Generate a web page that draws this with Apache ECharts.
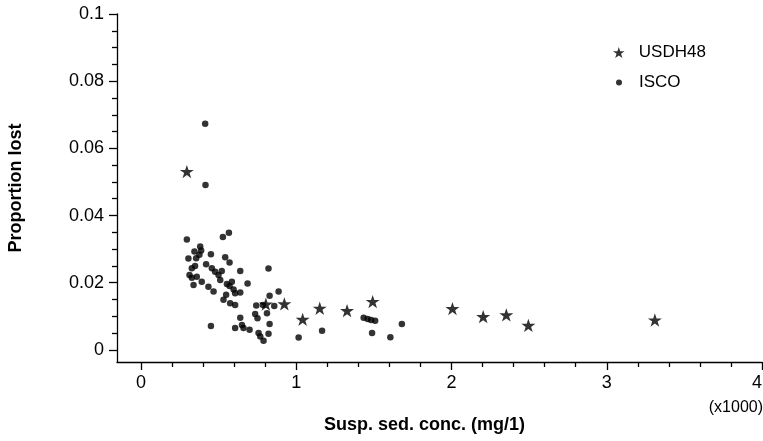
<!DOCTYPE html>
<html>
<head>
<meta charset="utf-8">
<script src="https://cdn.jsdelivr.net/npm/echarts@6/dist/echarts.min.js"></script>
<style>
  html, body { margin: 0; padding: 0; background: #fff; }
  #chart { width: 763px; height: 441px; }
</style>
</head>
<body>
<div id="chart"></div>
<script>
// Suspended sediment concentration (x1000 mg/l) vs. proportion of sample lost
const usdhX = [0.295, 0.804, 0.923, 1.041, 1.151, 1.327, 1.492, 2.006, 2.204, 2.353, 2.495, 3.31];
const usdhY = [0.0531, 0.0136, 0.0137, 0.0091, 0.0124, 0.0117, 0.0144, 0.0123, 0.0099, 0.0104, 0.0073, 0.0089];

const iscoX = [0.413, 0.415, 0.295, 0.527, 0.566, 0.381, 0.344, 0.387, 0.376, 0.305,
               0.450, 0.542, 0.570, 0.348, 0.327, 0.419, 0.456, 0.477, 0.499, 0.520,
               0.639, 0.821, 0.312, 0.327, 0.359, 0.391, 0.338, 0.510, 0.553, 0.585,
               0.686, 0.434, 0.467, 0.570, 0.596, 0.639, 0.606, 0.548, 0.531, 0.574,
               0.606, 0.886, 0.828, 0.742, 0.785, 0.858, 0.811, 0.735, 0.750, 0.639,
               0.450, 0.606, 0.650, 0.660, 0.699, 0.757, 0.828, 0.821, 0.768, 0.789,
               1.015, 1.166, 1.434, 1.460, 1.482, 1.508, 1.488, 1.606, 1.680, 0.355];
const iscoY = [0.0673, 0.0491, 0.0329, 0.0336, 0.0349, 0.0308, 0.0293, 0.0296, 0.0283, 0.0272,
               0.0285, 0.0276, 0.0260, 0.0250, 0.0243, 0.0255, 0.0243, 0.0233, 0.0223, 0.0235,
               0.0235, 0.0242, 0.0223, 0.0215, 0.0218, 0.0203, 0.0193, 0.0208, 0.0196, 0.0203,
               0.0198, 0.0188, 0.0174, 0.0190, 0.0180, 0.0171, 0.0169, 0.0164, 0.0149, 0.0139,
               0.0134, 0.0174, 0.0161, 0.0132, 0.0134, 0.0131, 0.0109, 0.0107, 0.0094, 0.0096,
               0.0071, 0.0065, 0.0074, 0.0065, 0.0060, 0.0050, 0.0077, 0.0048, 0.0040, 0.0027,
               0.0037, 0.0057, 0.0096, 0.0092, 0.0089, 0.0087, 0.0050, 0.0038, 0.0077, 0.0273];

const xTicks = [0, 1, 2, 3, 4];
const yTicks = [0, 0.02, 0.04, 0.06, 0.08, 0.1];

// minor tick positions between the labelled ticks
function minorTicks(majors, step) {
  const out = [];
  const lo = majors[0], hi = majors[majors.length - 1];
  for (let v = lo; v <= hi + step / 2; v += step) {
    const r = Math.round(v * 10000) / 10000;
    if (!majors.some(m => Math.abs(m - r) < 1e-9)) out.push(r);
  }
  return out;
}
const xMinor = minorTicks(xTicks, 0.2);
const yMinor = minorTicks(yTicks, 0.005);

const STAR = 'path://M50,0 L61.8,35.3 L99,35.3 L69,57.5 L80.4,93 L50,71.2 L19.6,93 L31,57.5 L1,35.3 L38.2,35.3 Z';
const FONT = '"Liberation Sans", Arial, Helvetica, sans-serif';
const INK = '#000';

const X_MIN = -0.155, X_MAX = 4;
const Y_MIN = -0.0036, Y_MAX = 0.1;

const chart = echarts.init(document.getElementById('chart'), null, { renderer: 'canvas' });

const lineStyle = { color: INK, width: 1.3 };

chart.setOption({
  backgroundColor: '#fff',
  animation: false,
  textStyle: { fontFamily: FONT, color: INK },
  grid: { left: 117, right: 1, top: 14, bottom: 79, outerBoundsMode: 'none', containLabel: false },
  xAxis: [
    {
      type: 'value', min: X_MIN, max: X_MAX, position: 'bottom',
      name: 'Susp. sed. conc. (mg/1)', nameLocation: 'middle', nameGap: 54,
      nameTextStyle: { fontFamily: FONT, fontWeight: 'bold', fontSize: 18, color: INK, padding: [0, 30, 0, 0] },
      axisLine: { show: true, onZero: false, lineStyle },
      axisTick: { show: true, inside: false, length: 8, customValues: xTicks, lineStyle },
      axisLabel: { show: true, customValues: xTicks, margin: 12, fontSize: 18, color: INK, fontFamily: FONT, alignMaxLabel: 'right' },
      splitLine: { show: false }
    },
    {
      type: 'value', min: X_MIN, max: X_MAX, position: 'bottom',
      axisLine: { show: false, onZero: false },
      axisTick: { show: true, inside: false, length: 5, customValues: xMinor, lineStyle },
      axisLabel: { show: false },
      splitLine: { show: false }
    }
  ],
  yAxis: [
    {
      type: 'value', min: Y_MIN, max: Y_MAX, position: 'left',
      name: 'Proportion lost', nameLocation: 'middle', nameGap: 92,
      nameTextStyle: { fontFamily: FONT, fontWeight: 'bold', fontSize: 18, color: INK },
      axisLine: { show: true, onZero: false, lineStyle },
      axisTick: { show: true, inside: false, length: 8, customValues: yTicks, lineStyle },
      axisLabel: { show: true, customValues: yTicks, margin: 13, fontSize: 18, color: INK, fontFamily: FONT },
      splitLine: { show: false }
    },
    {
      type: 'value', min: Y_MIN, max: Y_MAX, position: 'left',
      axisLine: { show: false, onZero: false },
      axisTick: { show: true, inside: false, length: 5, customValues: yMinor, lineStyle },
      axisLabel: { show: false },
      splitLine: { show: false }
    }
  ],
  legend: [
    {
      data: [{ name: 'USDH48', icon: STAR }],
      orient: 'vertical', left: 608, top: 39,
      itemWidth: 30, itemHeight: 11, symbolKeepAspect: true,
      textStyle: { fontFamily: FONT, fontSize: 17, color: INK }
    },
    {
      data: [{ name: 'ISCO', icon: 'circle' }],
      orient: 'vertical', left: 611, top: 69,
      itemWidth: 30, itemHeight: 6,
      textStyle: { fontFamily: FONT, fontSize: 17, color: INK }
    }
  ],
  graphic: [
    {
      type: 'text', right: 0, top: 400,
      style: { text: '(x1000)', font: '16px ' + FONT, fill: INK }
    }
  ],
  series: [
    {
      name: 'USDH48', type: 'scatter', xAxisIndex: 0, yAxisIndex: 0,
      symbol: STAR, symbolSize: 14, symbolKeepAspect: true,
      itemStyle: { color: INK },
      data: usdhX.map((x, i) => [x, usdhY[i]])
    },
    {
      name: 'ISCO', type: 'scatter', xAxisIndex: 0, yAxisIndex: 0,
      symbol: 'circle', symbolSize: 6.5,
      itemStyle: { color: INK },
      data: iscoX.map((x, i) => [x, iscoY[i]])
    }
  ]
});
</script>
</body>
</html>
